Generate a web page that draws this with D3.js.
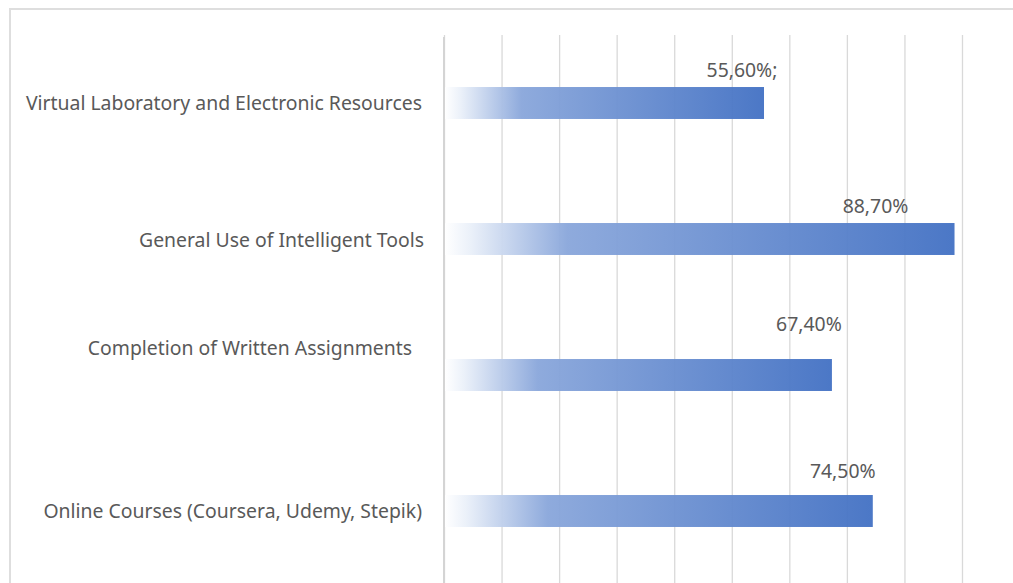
<!DOCTYPE html>
<html>
<head>
<meta charset="utf-8">
<script src="https://cdn.jsdelivr.net/npm/d3@7"></script>
<style>
  html, body { margin: 0; padding: 0; background: #fff; }
  svg { display: block; }
</style>
</head>
<body>
<div id="chart"></div>
<script>
// ----- data -----
const categories = [
  'Virtual Laboratory and Electronic Resources',
  'General Use of Intelligent Tools',
  'Completion of Written Assignments',
  'Online Courses (Coursera, Udemy, Stepik)'
]
const values = [55.6, 88.7, 67.4, 74.5]
const valueLabels = ['55,60%;', '88,70%', '67,40%', '74,50%']
const gridTicks = [0, 10, 20, 30, 40, 50, 60, 70, 80, 90]

// label nudges (labels were moved by hand in the original)
const catNudgeX = [0, 2, -10, 0]
const catNudgeY = [0, 1, -27, 0]
const valNudgeX = [-22, -79, -23, -30]
const valNudgeY = [-10, -10, -28, -17]

const W = 1013, H = 583
const FONT = '"Noto Sans", "Open Sans", sans-serif'
const TEXT = '#595959'

const svg = d3.select('#chart').append('svg')
  .attr('width', W)
  .attr('height', H)

/* gradient: white on the left, blue on the right */
const grad = svg.append('defs').append('linearGradient')
  .attr('id', 'barGrad')
  .attr('x1', 0).attr('x2', 1).attr('y1', 0).attr('y2', 0)
grad.selectAll('stop')
  .data([
    {o: 0, c: '#ffffff'},
    {o: 0.05, c: '#eaf0f9'},
    {o: 0.24, c: '#8aa7db'},
    {o: 1, c: '#4472c4'}
  ])
  .enter().append('stop')
  .attr('offset', d => d.o)
  .attr('stop-color', d => d.c)

/* chart frame */
svg.append('rect')
  .attr('x', 10).attr('y', 9)
  .attr('width', W + 20).attr('height', H + 20)
  .attr('fill', 'none')
  .attr('stroke', '#dedede')
  .attr('stroke-width', 2)

/* scales */
const x = d3.scaleLinear().domain([0, 90]).range([444, 962])
const y = d3.scaleBand()
  .domain(categories)
  .range([35, 579])
  .paddingInner(0.765)
  .paddingOuter(0.3825)

/* gridlines */
svg.append('g')
  .attr('transform', 'translate(0,35)')
  .call(d3.axisTop(x).tickValues(gridTicks).tickSize(-(H - 35)).tickFormat(''))
  .call(g => g.select('.domain').remove())
  .selectAll('.tick line')
  .attr('stroke', '#d9d9d9')
  .attr('stroke-width', 1.3)

/* category axis line */
svg.append('line')
  .attr('x1', x(0)).attr('x2', x(0))
  .attr('y1', 37).attr('y2', H)
  .attr('stroke', '#d4d4d4')
  .attr('stroke-width', 2)

/* bars */
svg.selectAll('.bar')
  .data(values)
  .enter().append('rect')
  .attr('class', 'bar')
  .attr('x', x(0) + 1)
  .attr('y', (d, i) => y(categories[i]))
  .attr('width', d => x(d) - x(0) - 1)
  .attr('height', y.bandwidth())
  .attr('fill', 'url(#barGrad)')
  .attr('opacity', 0.96)

/* value labels */
svg.selectAll('.val')
  .data(values)
  .enter().append('text')
  .attr('class', 'val')
  .attr('x', (d, i) => x(d) + valNudgeX[i])
  .attr('y', (d, i) => y(categories[i]) + valNudgeY[i])
  .attr('text-anchor', 'middle')
  .style('font-family', FONT)
  .style('font-size', '19.4px')
  .style('fill', TEXT)
  .text((d, i) => valueLabels[i])

/* category labels */
svg.selectAll('.cat')
  .data(categories)
  .enter().append('text')
  .attr('class', 'cat')
  .attr('x', (d, i) => 422 + catNudgeX[i])
  .attr('y', (d, i) => y(d) + y.bandwidth() / 2 + catNudgeY[i])
  .attr('dy', '0.35em')
  .attr('text-anchor', 'end')
  .style('font-family', FONT)
  .style('font-size', '19.4px')
  .style('fill', TEXT)
  .text(d => d)
</script>
</body>
</html>
